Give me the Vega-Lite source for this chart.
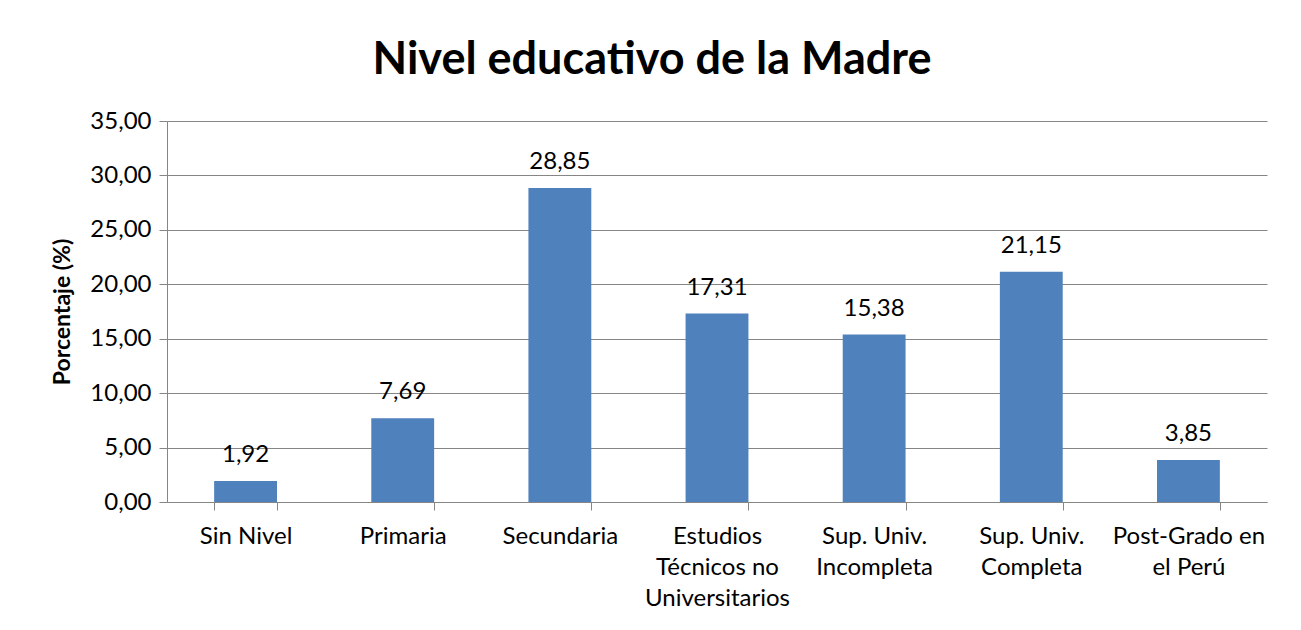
{
  "$schema": "https://vega.github.io/schema/vega-lite/v6.json",
  "width": 1100,
  "height": 381,
  "autosize": {"type": "none"},
  "padding": {"left": 167, "top": 121, "right": 34, "bottom": 128},
  "background": "white",
  "title": {
    "text": "Nivel educativo de la Madre",
    "font": "Lato",
    "fontSize": 45,
    "fontWeight": "bold",
    "color": "black",
    "anchor": "middle",
    "dx": -65,
    "offset": 26
  },
  "data": {
    "values": [
      {"nivel": "Sin Nivel", "pct": 1.92},
      {"nivel": "Primaria", "pct": 7.69},
      {"nivel": "Secundaria", "pct": 28.85},
      {"nivel": "Estudios|Técnicos no|Universitarios", "pct": 17.31},
      {"nivel": "Sup. Univ.|Incompleta", "pct": 15.38},
      {"nivel": "Sup. Univ.|Completa", "pct": 21.15},
      {"nivel": "Post-Grado en|el Perú", "pct": 3.85}
    ]
  },
  "transform": [
    {"calculate": "replace(format(datum.pct, '.2f'), '.', ',')", "as": "lbl"}
  ],
  "encoding": {
    "x": {
      "field": "nivel",
      "type": "nominal",
      "sort": null,
      "scale": {"paddingInner": 0.6, "paddingOuter": 0.3},
      "axis": {
        "title": null,
        "labelAngle": 0,
        "labelExpr": "split(datum.label, '|')",
        "labelFont": "Lato",
        "labelFontSize": 24,
        "labelColor": "black",
        "labelLineHeight": 31,
        "labelPadding": 14,
        "labelBaseline": "top",
        "domainColor": "#868686",
        "tickColor": "#868686",
        "tickSize": 8,
        "tickBand": "extent",
        "grid": false
      }
    },
    "y": {
      "field": "pct",
      "type": "quantitative",
      "scale": {"domain": [0, 35]},
      "axis": {
        "title": "Porcentaje (%)",
        "titleFont": "Lato",
        "titleFontSize": 23,
        "titleFontWeight": "bold",
        "titleColor": "black",
        "titlePadding": 15,
        "values": [0, 5, 10, 15, 20, 25, 30, 35],
        "labelExpr": "replace(format(datum.value, '.2f'), '.', ',')",
        "labelFont": "Lato",
        "labelFontSize": 24,
        "labelColor": "black",
        "labelPadding": 8,
        "domainColor": "#868686",
        "tickColor": "#868686",
        "tickSize": 8,
        "gridColor": "#868686",
        "gridOpacity": 1
      }
    }
  },
  "layer": [
    {"mark": {"type": "bar", "color": "#4F81BD"}},
    {
      "mark": {"type": "text", "font": "Lato", "fontSize": 24, "color": "black", "baseline": "alphabetic", "dy": -19},
      "encoding": {"text": {"field": "lbl"}}
    }
  ],
  "config": {"view": {"stroke": null}}
}
